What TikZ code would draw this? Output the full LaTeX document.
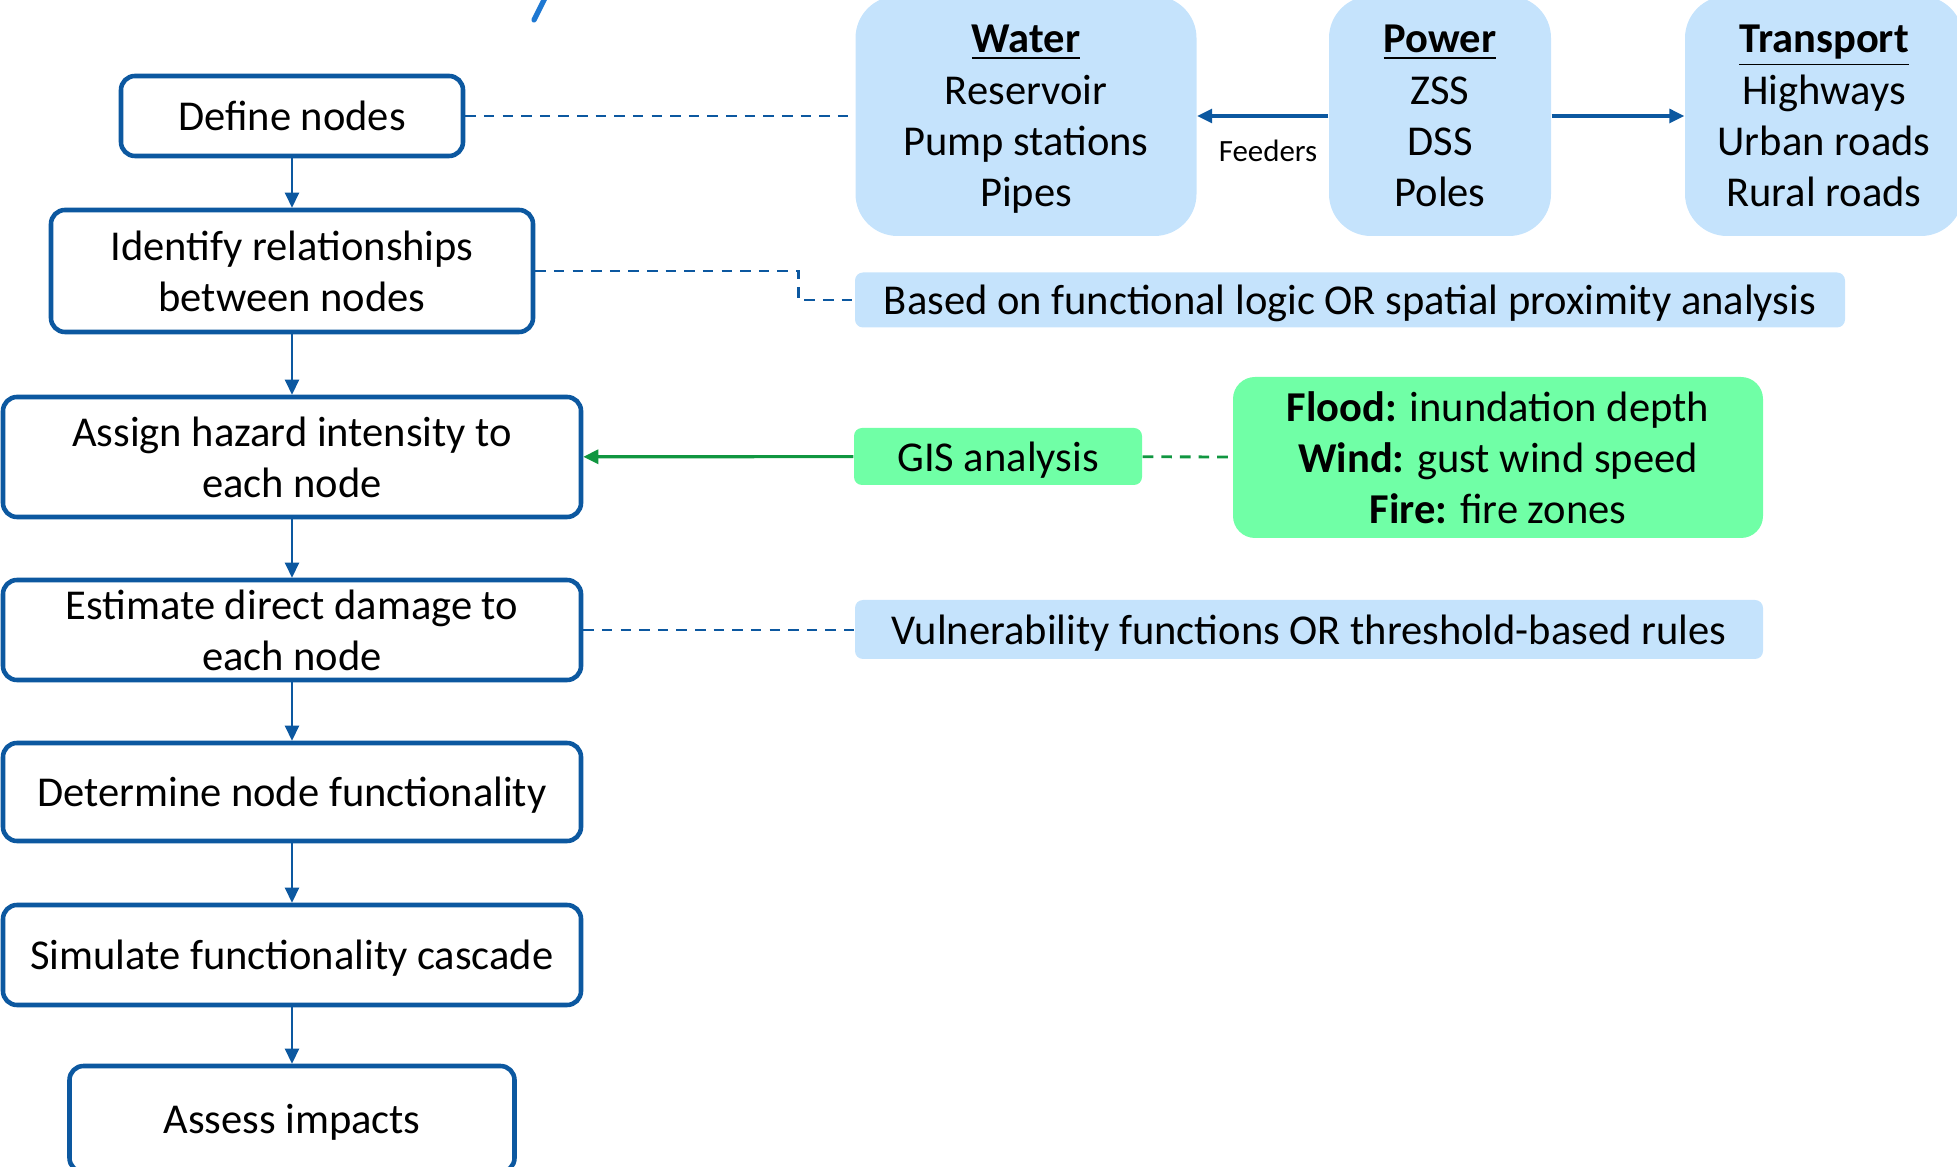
\documentclass[tikz,border=0pt]{standalone}
\usepackage{fontspec}
\setmainfont{Carlito}
\usetikzlibrary{arrows.meta}
\definecolor{stepblue}{RGB}{12,88,160}
\definecolor{paleblue}{RGB}{197,227,252}
\definecolor{mint}{RGB}{112,255,166}
\definecolor{gisgreen}{RGB}{16,150,64}
\definecolor{brightblue}{RGB}{30,120,210}
\tikzset{
  stepbox/.style={draw=stepblue,line width=1.3pt,rounded corners=0.14cm,fill=white,align=center,inner sep=0pt,text depth=-1pt,font=\fontsize{12.1}{14.6}\selectfont},
  netbox/.style={fill=paleblue,rounded corners=0.42cm,align=center,inner sep=0pt,text depth=-3pt,font=\fontsize{12.1}{14.6}\selectfont},
  notebox/.style={fill=paleblue,rounded corners=0.08cm,align=center,inner sep=0pt,text depth=-1.5pt,font=\fontsize{12.1}{14.6}\selectfont},
  greenbox/.style={fill=mint,rounded corners=0.08cm,align=center,inner sep=0pt,text depth=-1.5pt,font=\fontsize{12.1}{14.6}\selectfont},
  flowarrow/.style={draw=stepblue,line width=0.7pt,-{Triangle[length=1.5mm,width=1.4mm]}},
  linkarrow/.style={draw=stepblue,line width=0.9pt,-{Triangle[length=1.5mm,width=1.4mm]}},
  dashlink/.style={draw=stepblue,line width=0.8pt,dash pattern=on 3pt off 2.3pt},
}
\begin{document}
\begin{tikzpicture}
\useasboundingbox (0,0) rectangle (19.57,-11.67);
\draw[brightblue,line width=1.5pt,line cap=round] (5.45,0.02) -- (5.34,-0.2);
\node[stepbox,minimum width=3.42cm,minimum height=0.80cm] (define) at (2.92,-1.16) {Define nodes};
\node[stepbox,minimum width=4.82cm,minimum height=1.22cm] (identify) at (2.92,-2.71) {Identify relationships\\between nodes};
\node[stepbox,minimum width=5.78cm,minimum height=1.20cm] (assign) at (2.92,-4.57) {Assign hazard intensity to\\each node};
\node[stepbox,minimum width=5.78cm,minimum height=1.00cm] (estimate) at (2.92,-6.30) {Estimate direct damage to\\each node};
\node[stepbox,minimum width=5.78cm,minimum height=0.98cm] (determine) at (2.92,-7.92) {Determine node functionality};
\node[stepbox,minimum width=5.78cm,minimum height=1.00cm] (simulate) at (2.92,-9.55) {Simulate functionality cascade};
\node[stepbox,minimum width=4.45cm,minimum height=1.06cm] (assess) at (2.92,-11.19) {Assess impacts};
\draw[flowarrow] (define) -- (identify);
\draw[flowarrow] (identify) -- (assign);
\draw[flowarrow] (assign) -- (estimate);
\draw[flowarrow] (estimate) -- (determine);
\draw[flowarrow] (determine) -- (simulate);
\draw[flowarrow] (simulate) -- (assess);
\node[netbox,minimum width=3.41cm,minimum height=2.40cm] (water) at (10.26,-1.16) {\underline{\textbf{Water}}\\Reservoir\\Pump stations\\Pipes};
\node[netbox,minimum width=2.22cm,minimum height=2.40cm] (power) at (14.40,-1.16) {\underline{\textbf{Power}}\\ZSS\\DSS\\Poles};
\node[netbox,minimum width=2.78cm,minimum height=2.40cm] (transport) at (18.24,-1.16) {\underline{\textbf{Transport}}\\Highways\\Urban roads\\Rural roads};
\draw[linkarrow] (power) -- (water);
\draw[linkarrow] (power) -- (transport);
\node[font=\fontsize{8.8}{10}\selectfont] (feeders) at (12.68,-1.51) {Feeders};
\node[notebox,minimum width=9.90cm,minimum height=0.55cm] (based) at (13.50,-3.00) {Based on functional logic OR spatial proximity analysis};
\node[greenbox,minimum width=2.88cm,minimum height=0.57cm] (gis) at (9.98,-4.565) {GIS analysis};
\node[greenbox,rounded corners=0.22cm,minimum width=5.30cm,minimum height=1.61cm] (hazard) at (14.98,-4.575) {\textbf{Flood:} inundation depth\\\textbf{Wind:} gust wind speed\\\textbf{Fire:} fire zones};
\node[notebox,minimum width=9.08cm,minimum height=0.59cm] (vuln) at (13.09,-6.295) {Vulnerability functions OR threshold-based rules};
\draw[dashlink] (define.east) -- (water.west |- define.east);
\draw[dashlink] (identify.east) -- ([xshift=-0.56cm]based.west |- identify.east) |- (based.west);
\draw[gisgreen,line width=0.9pt,-{Triangle[length=1.5mm,width=1.4mm]}] (gis) -- (assign);
\draw[gisgreen,line width=0.8pt,dash pattern=on 3pt off 2.3pt] (gis) -- (hazard);
\draw[dashlink] (estimate.east) -- (vuln.west |- estimate.east);
\end{tikzpicture}
\end{document}
